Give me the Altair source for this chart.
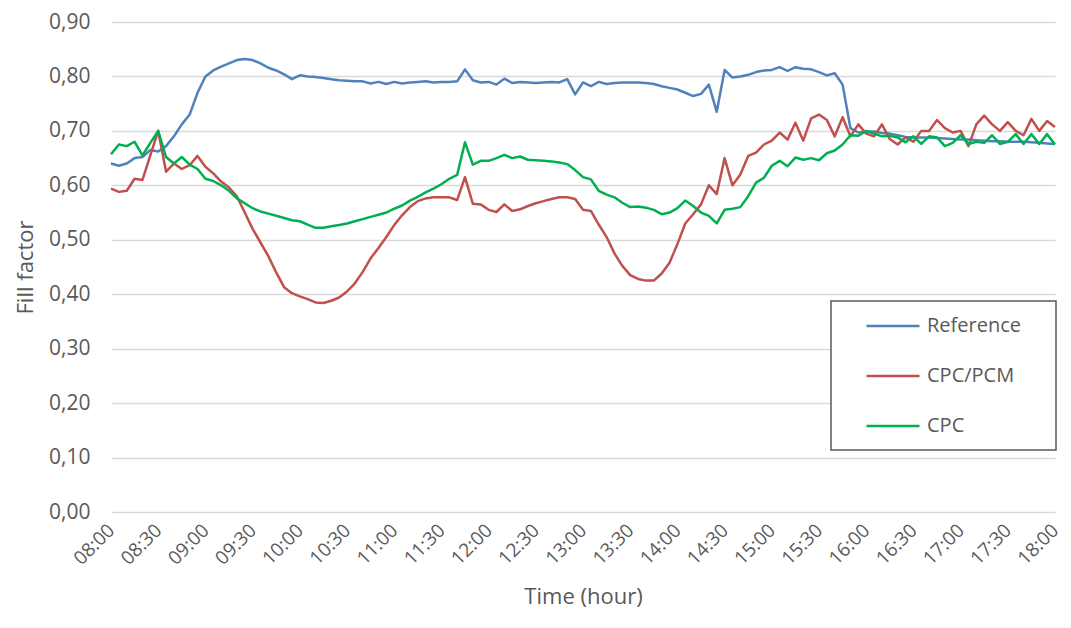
import altair as alt
import pandas as pd

# minutes after 08:00, every 5 minutes
MINUTES = list(range(0, 601, 5))

SERIES = ["Reference", "CPC/PCM", "CPC"]
COLORS = ["#4F81BD", "#C0504D", "#00B050"]

REFERENCE = [
    0.640, 0.636, 0.640, 0.650, 0.652, 0.665, 0.662, 0.672, 0.690, 0.712,
    0.730, 0.770, 0.800, 0.811, 0.818, 0.824, 0.830, 0.832, 0.830, 0.824,
    0.816, 0.811, 0.804, 0.795, 0.802, 0.800, 0.799, 0.797, 0.795, 0.793,
    0.792, 0.791, 0.791, 0.787, 0.790, 0.786, 0.790, 0.787, 0.789, 0.790,
    0.791, 0.789, 0.790, 0.790, 0.791, 0.813, 0.793, 0.789, 0.790, 0.785,
    0.796, 0.788, 0.790, 0.789, 0.788, 0.789, 0.790, 0.789, 0.795, 0.767,
    0.789, 0.782, 0.790, 0.786, 0.788, 0.789, 0.789, 0.789, 0.788, 0.786,
    0.782, 0.779, 0.776, 0.770, 0.764, 0.768, 0.785, 0.735, 0.812, 0.798,
    0.800, 0.803, 0.808, 0.811, 0.812, 0.817, 0.810, 0.817, 0.814, 0.813,
    0.808, 0.802, 0.806, 0.785, 0.705, 0.697, 0.699, 0.699, 0.696, 0.695,
    0.692, 0.689, 0.688, 0.688, 0.688, 0.687, 0.686, 0.685, 0.684, 0.684,
    0.683, 0.682, 0.681, 0.681, 0.680, 0.680, 0.680, 0.679, 0.678, 0.677,
    0.676,
]

CPC_PCM = [
    0.594, 0.588, 0.590, 0.612, 0.610, 0.655, 0.700, 0.625, 0.640, 0.630,
    0.637, 0.654, 0.634, 0.622, 0.607, 0.596, 0.580, 0.550, 0.520, 0.495,
    0.470, 0.440, 0.413, 0.402, 0.396, 0.391, 0.385, 0.384, 0.388, 0.394,
    0.405, 0.420, 0.441, 0.466, 0.485, 0.505, 0.527, 0.545, 0.560, 0.571,
    0.576, 0.578, 0.578, 0.578, 0.573, 0.615, 0.566, 0.565, 0.555, 0.551,
    0.565, 0.553, 0.556, 0.562, 0.567, 0.571, 0.575, 0.578, 0.578, 0.575,
    0.555, 0.553, 0.528, 0.505, 0.475, 0.452, 0.435, 0.428, 0.425, 0.425,
    0.438, 0.458, 0.492, 0.530, 0.547, 0.565, 0.600, 0.584, 0.650, 0.600,
    0.620, 0.654, 0.660, 0.675, 0.682, 0.697, 0.684, 0.715, 0.682, 0.723,
    0.730, 0.720, 0.690, 0.725, 0.690, 0.712, 0.695, 0.690, 0.712, 0.685,
    0.675, 0.688, 0.680, 0.700, 0.700, 0.720, 0.705, 0.697, 0.700, 0.672,
    0.712, 0.728, 0.712, 0.700, 0.716, 0.700, 0.692, 0.722, 0.700, 0.718,
    0.707,
]

CPC = [
    0.657, 0.675, 0.672, 0.680, 0.655, 0.678, 0.700, 0.652, 0.640, 0.652,
    0.638, 0.630, 0.612, 0.608, 0.600, 0.590, 0.576, 0.567, 0.558, 0.552,
    0.548, 0.544, 0.540, 0.536, 0.534, 0.528, 0.522, 0.522, 0.525, 0.527,
    0.530, 0.534, 0.538, 0.542, 0.546, 0.550, 0.557, 0.563, 0.572, 0.579,
    0.587, 0.594, 0.602, 0.612, 0.619, 0.679, 0.638, 0.645, 0.645, 0.650,
    0.656, 0.650, 0.653, 0.647, 0.646, 0.645, 0.644, 0.642, 0.639, 0.628,
    0.615, 0.611, 0.590, 0.583, 0.578, 0.568, 0.560, 0.561, 0.559, 0.555,
    0.547, 0.550, 0.558, 0.572, 0.562, 0.550, 0.544, 0.530, 0.555, 0.557,
    0.560, 0.580, 0.605, 0.614, 0.636, 0.645, 0.635, 0.651, 0.647, 0.650,
    0.646, 0.659, 0.664, 0.675, 0.692, 0.691, 0.700, 0.695, 0.690, 0.691,
    0.688, 0.679, 0.690, 0.676, 0.690, 0.688, 0.672, 0.678, 0.692, 0.676,
    0.680, 0.678, 0.692, 0.676, 0.680, 0.694, 0.676, 0.694, 0.676, 0.694,
    0.675,
]

X_TICKS = list(range(0, 601, 30))
Y_TICKS = [0.0, 0.1, 0.2, 0.3, 0.4, 0.5, 0.6, 0.7, 0.8, 0.9]

rows = []
for name, vals in zip(SERIES, [REFERENCE, CPC_PCM, CPC]):
    assert len(vals) == len(MINUTES), (name, len(vals))
    for m, v in zip(MINUTES, vals):
        rows.append({"t": m, "value": v, "series": name, "order": SERIES.index(name)})
df = pd.DataFrame(rows)

FONT = "Open Sans"
GREY = "#595959"

x_label = ("(8 + floor(datum.value / 60) < 10 ? '0' : '') + (8 + floor(datum.value / 60)) + ':' + "
           "(datum.value % 60 < 10 ? '0' : '') + (datum.value % 60)")

lines = alt.Chart(df).mark_line(strokeWidth=2.5, strokeJoin="round").encode(
    x=alt.X("t:Q",
            scale=alt.Scale(domain=[0, 600], nice=False),
            axis=alt.Axis(values=X_TICKS, labelExpr=x_label, labelAngle=-45, labelAlign="right",
                          labelBaseline="middle", labelPadding=15, grid=False, domain=False, ticks=False,
                          labelFont=FONT, labelFontSize=19, labelColor=GREY, labelOverlap=False,
                          title="Time (hour)", titleFont=FONT, titleFontSize=22, titleColor=GREY,
                          titleFontWeight="normal", titlePadding=18)),
    y=alt.Y("value:Q",
            scale=alt.Scale(domain=[0, 0.9], nice=False),
            axis=alt.Axis(values=Y_TICKS, labelExpr="replace(format(datum.value, '.2f'), '.', ',')",
                          grid=True, gridColor="#D9D9D9", gridWidth=1.5, domain=False, ticks=False,
                          labelFont=FONT, labelFontSize=21, labelColor=GREY, labelPadding=21,
                          title="Fill factor", titleFont=FONT, titleFontSize=22, titleColor=GREY,
                          titleFontWeight="normal", titlePadding=11)),
    color=alt.Color("series:N",
                    scale=alt.Scale(domain=SERIES, range=COLORS),
                    sort=SERIES,
                    legend=alt.Legend(title=None, orient="none", legendX=720, legendY=279,
                                      symbolType="stroke", symbolSize=2809, symbolStrokeWidth=2.5,
                                      clipHeight=20, symbolOffset=19, labelOffset=6, rowPadding=30,
                                      padding=15,
                                      labelFont=FONT, labelFontSize=20, labelColor=GREY)),
    order=alt.Order("order:Q"),
)

# frame drawn around the legend (Excel-style legend box)
legend_box = alt.Chart(alt.Data(values=[{}])).mark_rect(
    fill="white", stroke=GREY, strokeWidth=1.5
).encode(
    x=alt.value(720), x2=alt.value(945), y=alt.value(279), y2=alt.value(428)
)

chart = alt.layer(legend_box, lines).properties(
    width=944, height=490,
    autosize=alt.AutoSizeParams(type="none"),
    padding={"left": 103, "top": 14, "right": 8, "bottom": 100},
).configure_view(stroke=None)

chart.save("out.html", embed_options={"renderer": "svg", "actions": False})
